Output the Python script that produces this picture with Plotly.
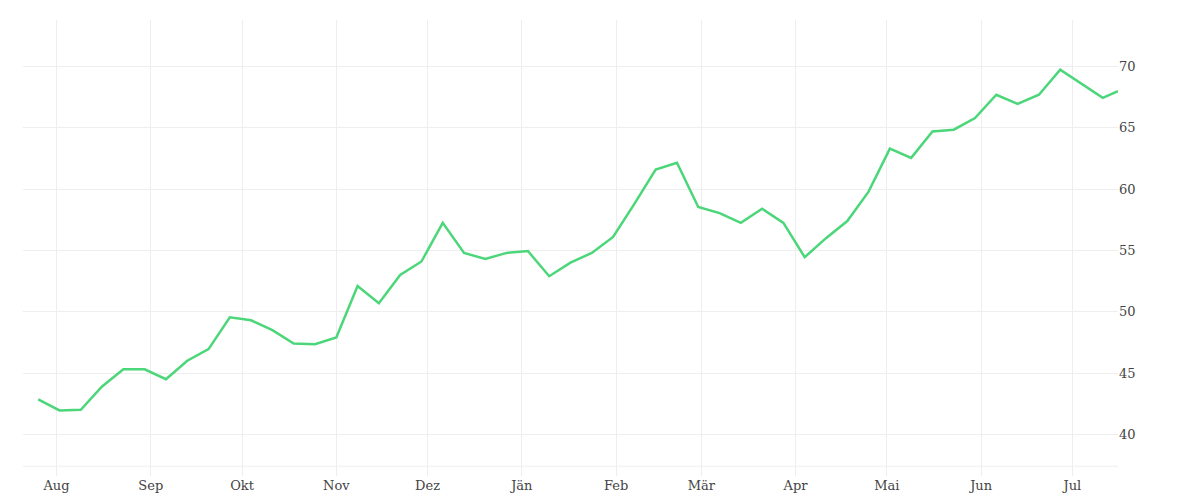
import pandas as pd
import plotly.graph_objects as go

dates = list(pd.date_range("2020-07-26", periods=51, freq="7D")) + [pd.Timestamp("2021-07-16")]
values = [42.85, 41.95, 42.0, 43.9, 45.3, 45.3, 44.5, 46.0, 46.95, 49.55,
          49.3, 48.5, 47.4, 47.35, 47.9, 52.1, 50.7, 53.0, 54.1, 57.25,
          54.8, 54.3, 54.8, 54.95, 52.9, 54.0, 54.8, 56.1, 58.8, 61.6,
          62.15, 58.55, 58.05, 57.25, 58.4, 57.25, 54.45, 56.0, 57.4, 59.8,
          63.3, 62.55, 64.7, 64.85, 65.8, 67.7, 66.95, 67.7, 69.75, 68.6,
          67.45, 68.0]
month_ticks = pd.date_range("2020-08-01", periods=12, freq="MS")
month_labels = ["Aug", "Sep", "Okt", "Nov", "Dez", "Jän", "Feb", "Mär", "Apr", "Mai", "Jun", "Jul"]

fig = go.Figure(go.Scatter(x=dates, y=values, mode="lines",
                           line=dict(color="#4cd67a", width=2.5), hoverinfo="x+y"))

fig.update_layout(
    width=1200, height=500,
    margin=dict(l=15, r=90, t=12, b=32),
    plot_bgcolor="white", paper_bgcolor="white",
    showlegend=False,
    font=dict(family="DejaVu Serif", size=13, color="#444"),
)
fig.update_xaxes(tickvals=month_ticks, ticktext=month_labels,
                 range=["2020-07-21", "2021-07-16"],
                 showgrid=True, gridcolor="#eeeeee", zeroline=False,
                 ticks="", ticklen=0)
fig.update_yaxes(side="right", range=[36.6, 73.8], tickvals=[40, 45, 50, 55, 60, 65, 70],
                 showgrid=True, gridcolor="#eeeeee", zeroline=False,
                 showline=False)
fig.add_hline(y=37.4, line=dict(color="#eeeeee", width=1))

fig.write_html("out.html")
